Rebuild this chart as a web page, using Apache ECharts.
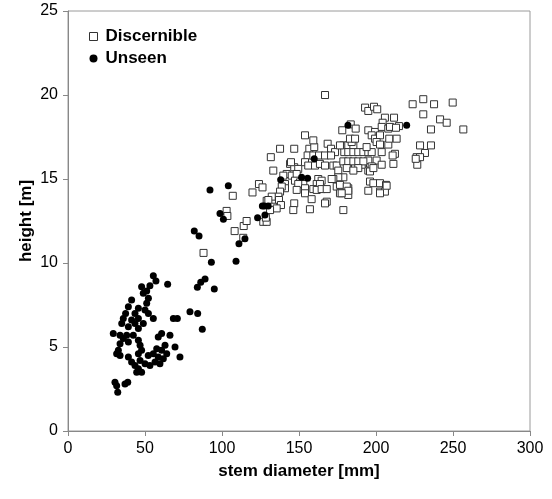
<!DOCTYPE html>
<html>
<head>
<meta charset="utf-8">
<script src="https://cdn.jsdelivr.net/npm/echarts@6/dist/echarts.min.js"></script>
<style>html,body{margin:0;padding:0;background:#fff}#c{width:552px;height:499px}</style>
</head>
<body>
<div id="c"></div>
<script>
var xTicks = [0, 50, 100, 150, 200, 250, 300];
var yTicks = [0, 5, 10, 15, 20, 25];
var seriesNames = ['Discernible', 'Unseen'];

var discernible = [
[88.0,10.6],[103.0,13.1],[103.5,12.8],[107.0,14.0],[108.2,11.9],[113.8,11.5],[114.1,12.2],[116.0,12.5],
[119.8,14.2],[124.0,14.7],[126.3,14.5],[129.0,13.7],[126.8,12.45],[129.0,12.45],[128.5,12.7],
[137.7,16.8],[146.9,16.8],[131.7,16.3],[156.7,16.8],[159.9,16.9],[155.6,16.4],[159.3,16.4],[163.0,16.4],
[168.6,17.1],[170.8,16.8],[173.4,16.6],[166.9,16.4],[170.8,16.4],[178.8,17.0],[182.0,17.0],[185.3,17.0],
[184.2,17.2],[179.4,16.6],[182.0,16.6],[185.3,16.6],[188.5,16.6],[191.8,16.6],[195.0,16.6],[197.2,16.6],
[144.2,15.9],[146.9,15.7],[149.5,15.6],[153.9,16.0],[156.0,15.8],[160.4,15.8],[163.6,15.9],[166.9,15.8],
[172.3,15.8],[174.5,15.8],[175.5,15.5],[178.8,15.1],[175.5,15.1],[172.3,15.0],[133.3,15.5],[142.0,15.3],
[139.8,15.2],[145.3,15.2],[148.5,15.3],[147.4,14.9],[150.6,14.8],[152.8,14.7],[149.5,14.7],[162.5,15.0],
[164.7,14.9],[161.5,14.7],[163.6,14.7],[140.9,14.7],[140.9,14.45],[138.8,14.55],[137.7,14.25],[136.6,13.95],
[132.3,13.95],[130.1,13.75],[148.5,14.35],[153.9,14.45],[153.9,14.15],[159.3,14.4],[161.5,14.35],[164.7,14.4],
[168.0,14.4],[171.2,15.0],[174.5,14.55],[177.7,14.45],[182.0,14.45],[176.6,14.15],[182.0,14.05],[158.2,13.8],
[146.9,13.55],[168.0,13.65],[166.9,13.55],[146.3,13.15],[157.1,13.2],[178.8,13.15],[137.0,13.75],[138.3,13.45],
[133.3,13.35],[135.5,13.25],[131.2,13.15],[195.0,16.1],[196.1,15.7],[195.0,15.5],[196.1,14.85],[198.3,14.75],
[193.9,16.9],[184.2,15.65],[186.4,15.65],[190.7,15.85],[166.9,20.0],[192.9,19.25],[195.0,19.05],[198.7,19.3],
[200.8,19.15],[223.8,19.45],[205.8,18.65],[211.7,18.65],[204.3,18.35],[183.6,18.25],[186.8,18.0],[178.1,17.9],
[195.0,17.9],[199.4,17.8],[203.7,18.1],[208.0,18.0],[209.1,18.1],[214.9,18.15],[213.0,18.05],[153.9,17.6],
[159.3,17.3],[183.1,17.4],[186.4,17.4],[176.6,17.0],[197.2,17.6],[199.4,17.4],[202.6,17.6],[200.4,17.2],
[202.6,17.05],[208.0,17.05],[208.6,17.4],[213.4,17.4],[203.7,16.6],[212.3,16.5],[210.8,16.4],[226.4,16.3],
[226.8,15.85],[200.4,16.1],[203.7,15.85],[197.2,15.75],[196.1,15.45],[198.3,15.65],[211.3,15.9],[178.8,16.05],
[182.0,16.05],[185.3,16.05],[188.5,16.05],[191.8,16.05],[181.0,15.65],[188.5,15.65],[185.3,15.5],[202.6,14.75],
[206.5,14.65],[195.0,14.3],[202.6,14.25],[205.8,14.25],[176.6,14.65],[181.0,14.55],[182.0,14.3],[177.7,14.15],
[230.7,19.75],[237.7,19.45],[249.8,19.55],[230.7,18.85],[241.6,18.55],[245.9,18.35],[256.7,17.95],[235.7,17.95],
[228.6,17.0],[235.7,17.0],[231.8,16.55],[228.6,16.3],[225.8,16.2],[206.9,14.6],[202.6,14.15],[144.8,16.0]
];

var unseen = [
[55.4,9.24],[57.1,8.93],[64.7,8.73],[53.2,8.65],[47.8,8.59],[51.1,8.33],[48.9,8.2],[41.3,7.8],[52.2,7.9],
[51.1,7.6],[39.2,7.4],[45.7,7.3],[50.0,7.2],[37.4,7.0],[43.5,7.0],[52.2,7.0],[68.4,6.7],[71.0,6.7],
[35.9,6.7],[41.3,6.6],[45.7,6.7],[55.4,6.7],[34.9,6.4],[43.5,6.4],[48.9,6.4],[39.2,6.2],[45.7,6.1],
[29.4,5.8],[33.8,5.7],[38.1,5.7],[42.4,5.7],[60.8,5.8],[66.2,5.7],[35.9,5.5],[45.7,5.4],[58.6,5.6],
[33.8,5.2],[39.2,5.3],[46.8,5.1],[63.0,5.1],[69.5,5.0],[32.7,4.8],[47.8,4.8],[57.6,4.9],[60.8,4.8],
[31.6,4.6],[45.7,4.6],[55.4,4.6],[64.1,4.6],[33.8,4.5],[39.2,4.4],[52.1,4.5],[58.6,4.4],[72.7,4.4],
[46.8,4.2],[61.9,4.3],[41.3,4.1],[50.0,4.0],[56.5,4.1],[43.5,3.9],[53.2,3.9],[59.7,4.0],[45.7,3.7],
[47.8,3.5],[44.6,3.5],[30.5,2.9],[31.6,2.7],[38.8,2.9],[37.0,2.8],[32.3,2.3],
[82.0,11.9],[85.1,11.6],[92.2,14.35],[98.7,12.95],[100.9,12.6],[104.1,14.6],[93.1,10.05],[109.1,10.1],
[111.0,11.15],[114.9,11.45],[123.1,12.7],[127.9,12.85],[126.2,13.4],[127.5,13.4],[130.0,13.4],[138.1,14.95],
[151.7,15.1],[155.6,15.05],[159.9,16.2],[181.8,18.2],[219.9,18.2],[89.0,9.05],[86.2,8.85],[84.0,8.55],
[95.0,8.45],[79.2,7.1],[84.2,7.0],[87.2,6.05]
];

var chart = echarts.init(document.getElementById('c'), null, {renderer: 'canvas'});
var font = 'Liberation Sans, Arial, sans-serif';
chart.setOption({
  animation: false,
  backgroundColor: '#fff',
  grid: {left: 68, right: 22, top: 11, bottom: 68, show: true, borderColor: '#9a9a9a', borderWidth: 1},
  graphic: [{
    type: 'text', x: 26, y: 221, rotation: Math.PI / 2,
    style: {text: 'height [m]', font: 'bold 17px Liberation Sans, Arial, sans-serif', fill: '#000',
            align: 'center', verticalAlign: 'middle', textAlign: 'center', textVerticalAlign: 'middle'}
  }],
  legend: {
    orient: 'vertical', left: 84, top: 23, itemGap: 5, itemWidth: 8, itemHeight: 8,
    textStyle: {fontFamily: font, fontWeight: 'bold', fontSize: 17, color: '#000', padding: [0,0,0,3]},
    data: [
      {name: seriesNames[0], icon: 'rect', itemStyle: {color: '#fff', borderColor: '#333', borderWidth: 1, opacity: 1}},
      {name: seriesNames[1], icon: 'circle', itemStyle: {color: '#000', opacity: 1}}
    ]
  },
  xAxis: {
    type: 'value', min: xTicks[0], max: xTicks[xTicks.length-1], interval: 50,
    name: 'stem diameter [mm]', nameLocation: 'middle', nameGap: 32,
    nameTextStyle: {fontFamily: font, fontWeight: 'bold', fontSize: 17, color: '#000'},
    axisLine: {show: true, lineStyle: {color: '#888'}},
    axisTick: {show: true, length: 5, lineStyle: {color: '#888'}},
    axisLabel: {fontFamily: font, fontSize: 16, color: '#000', margin: 10},
    splitLine: {show: false}
  },
  yAxis: {
    type: 'value', min: yTicks[0], max: yTicks[yTicks.length-1], interval: 5,
    axisLine: {show: true, lineStyle: {color: '#888'}},
    axisTick: {show: true, length: 5, lineStyle: {color: '#888'}},
    axisLabel: {fontFamily: font, fontSize: 16, color: '#000', margin: 10},
    splitLine: {show: false}
  },
  series: [
    {name: seriesNames[0], type: 'scatter', data: discernible, symbol: 'rect', symbolSize: 7,
     itemStyle: {color: '#fff', borderColor: '#333', borderWidth: 1, opacity: 1}},
    {name: seriesNames[1], type: 'scatter', data: unseen, symbol: 'circle', symbolSize: 7,
     itemStyle: {color: '#000', opacity: 1}}
  ]
});
</script>
</body>
</html>
